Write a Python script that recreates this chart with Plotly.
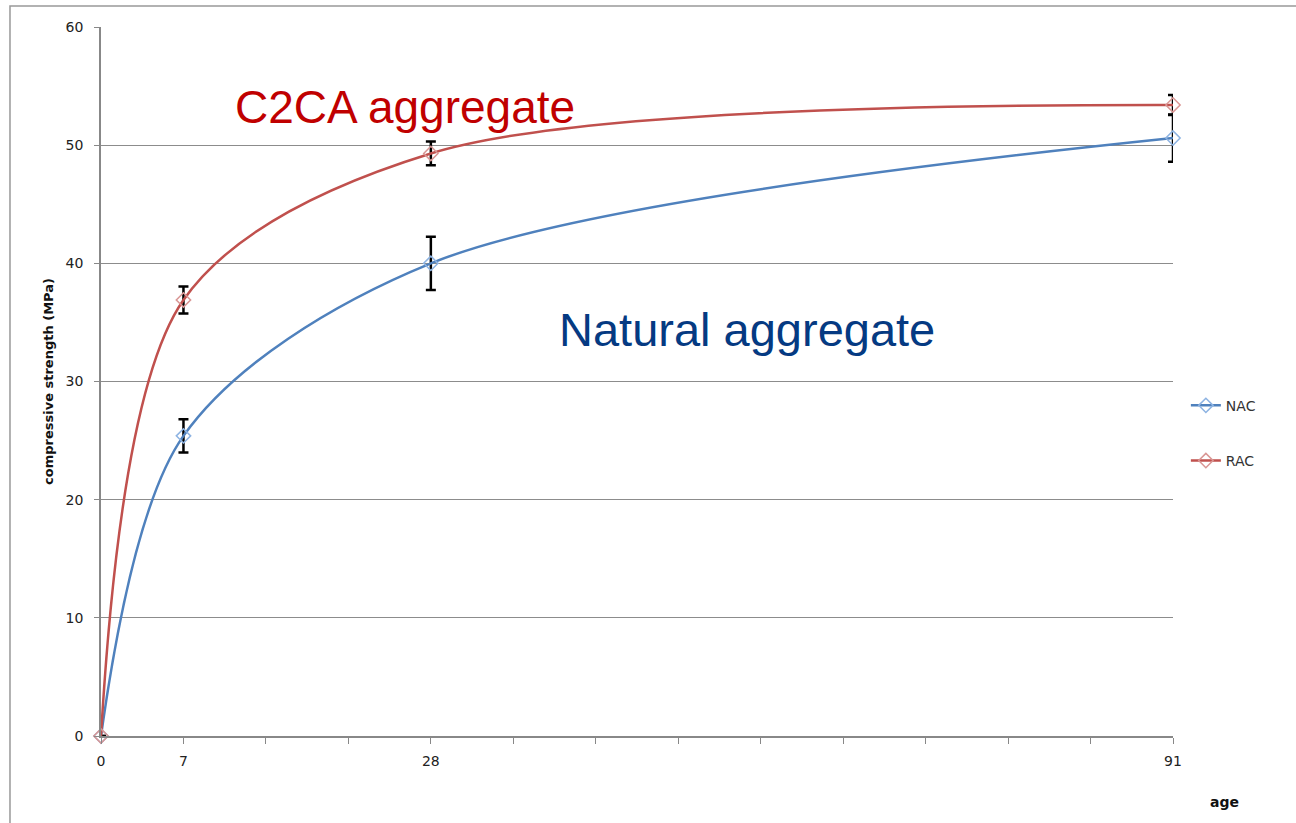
import plotly.graph_objects as go

# Curing age (days) and compressive strength (MPa)
age = [0, 7, 28, 91]
nac_strength = [0, 25.4, 40.0, 50.6]
nac_err = [0, 1.4, 2.25, 2.0]
rac_strength = [0, 36.9, 49.3, 53.4]
rac_err = [0, 1.15, 1.0, 0.85]

x_tick_vals = list(range(0, 92, 7))
x_tick_text = ["0", "7", "", "", "28", "", "", "", "", "", "", "", "", "91"]
y_tick_vals = [0, 10, 20, 30, 40, 50, 60]

NAC_COLOR = "#4F81BD"
RAC_COLOR = "#C0504D"
FONT = "DejaVu Sans"

fig = go.Figure()

for name, ys, err, col, mcol, grp in [
    ("NAC", nac_strength, nac_err, NAC_COLOR, "#8DB3E2", "g1"),
    ("RAC", rac_strength, rac_err, RAC_COLOR, "#D99694", "g2"),
]:
    fig.add_trace(go.Scatter(
        x=age, y=ys, name=name, legendgroup=grp,
        mode="lines+markers", cliponaxis=False,
        line=dict(color=col, width=2.5, shape="spline", smoothing=0.9),
        marker=dict(symbol="diamond-open", size=11, color=mcol,
                    line=dict(width=1.5, color=mcol)),
        error_y=dict(type="data", array=err, visible=True,
                     color="black", thickness=2.5, width=5),
    ))

fig.update_layout(
    width=1296, height=823,
    margin=dict(l=101, r=123, t=27, b=87),
    paper_bgcolor="white", plot_bgcolor="white",
    font=dict(family=FONT, size=14, color="#222"),
    showlegend=True,
    legend=dict(x=1.012, y=0.427, xanchor="left", yanchor="middle",
                traceorder="grouped", tracegroupgap=34,
                font=dict(family=FONT, size=14, color="#333"),
                bgcolor="rgba(0,0,0,0)", itemwidth=30),
    xaxis=dict(range=[0, 91], tickvals=x_tick_vals, ticktext=x_tick_text,
               ticks="outside", ticklen=6, tickcolor="#888", tickwidth=1,
               ticklabelstandoff=5,
               showline=True, linecolor="#888", linewidth=1.5,
               showgrid=False, zeroline=False,
               tickfont=dict(family=FONT, size=14, color="#222")),
    yaxis=dict(range=[0, 60], tickvals=y_tick_vals,
               ticks="outside", ticklen=5, tickcolor="#888", tickwidth=1,
               ticklabelstandoff=8,
               showline=True, linecolor="#888", linewidth=1.5,
               showgrid=True, gridcolor="#8c8c8c", gridwidth=1,
               zeroline=False,
               tickfont=dict(family=FONT, size=14, color="#222")),
    shapes=[dict(type="rect", xref="paper", yref="paper",
                 x0=-0.0849, x1=1.3, y0=-0.3, y1=1.0296,
                 line=dict(color="#999", width=1.5), layer="below")],
    annotations=[
        dict(text="C2CA aggregate", xref="x", yref="y", x=11.2, y=53.2,
             xanchor="left", yanchor="middle", showarrow=False,
             font=dict(family="Liberation Sans", size=46, color="#C00000")),
        dict(text="Natural aggregate", xref="x", yref="y", x=38.7, y=34.4,
             xanchor="left", yanchor="middle", showarrow=False,
             font=dict(family="Liberation Sans", size=47, color="#053A82")),
        dict(text="<b>compressive strength (MPa)</b>", xref="paper", yref="paper",
             x=-0.049, y=0.5, textangle=-90, xanchor="center", yanchor="middle",
             showarrow=False, font=dict(family=FONT, size=13, color="#111")),
        dict(text="<b>age</b>", xref="paper", yref="paper",
             x=1.0485, y=-0.093, xanchor="center", yanchor="middle",
             showarrow=False, font=dict(family=FONT, size=14, color="#111")),
    ],
)

fig.write_html("out.html")
